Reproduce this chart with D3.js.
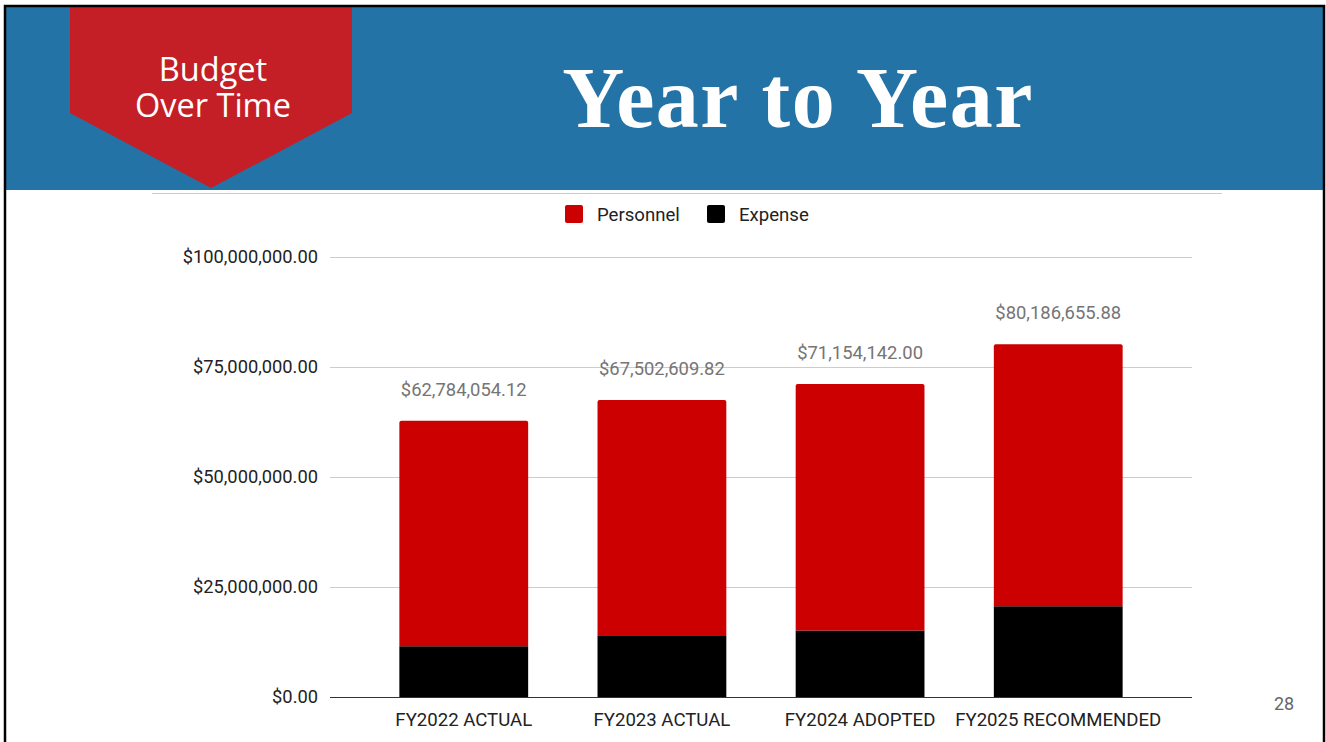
<!DOCTYPE html>
<html>
<head>
<meta charset="utf-8">
<script src="https://cdn.jsdelivr.net/npm/d3@7"></script>
<style>
  html, body { margin: 0; padding: 0; background: #fff; }
  svg { display: block; }
</style>
</head>
<body>
<svg id="slide" width="1326" height="742"></svg>
<script>
// Fiscal years shown on the x axis
const categories = ["FY2022 ACTUAL", "FY2023 ACTUAL", "FY2024 ADOPTED", "FY2025 RECOMMENDED"];
// Stacked series (bottom segment first)
const expense   = [11550000.00, 14050000.00, 15100000.00, 20600000.00];
const personnel = [51234054.12, 53452609.82, 56054142.00, 59586655.88];
const seriesNames = ["Personnel", "Expense"];
const seriesColors = ["#cc0000", "#000000"];
// Y axis ticks
const yTicks = [0, 25000000, 50000000, 75000000, 100000000];

const svg = d3.select("#slide");

// ---- Header band ----
svg.append("rect").attr("x", 6).attr("y", 7).attr("width", 1317).attr("height", 183).attr("fill", "#2473a6");

// Red chevron banner
svg.append("path")
  .attr("d", "M70,7 L352,7 L352,113 L211,188 L70,113 Z")
  .attr("fill", "#c41f26");
const banner = svg.append("text").attr("text-anchor", "middle")
  .attr("font-family", "'Open Sans', sans-serif").attr("font-size", 32.5).attr("fill", "#fff");
banner.append("tspan").attr("x", 213).attr("y", 81).text("Budget");
banner.append("tspan").attr("x", 213).attr("y", 117).text("Over Time");

// Title
svg.append("text").attr("x", 798).attr("y", 127).attr("text-anchor", "middle")
  .attr("font-family", "'Liberation Serif', serif").attr("font-weight", "bold")
  .attr("font-size", 86).attr("letter-spacing", 1.5).attr("fill", "#fff").text("Year to Year");

// Frame
svg.append("rect").attr("x", 5).attr("y", 6).attr("width", 1319).attr("height", 760)
  .attr("fill", "none").attr("stroke", "#000").attr("stroke-width", 2.5);

// Thin rule under the header
svg.append("line").attr("x1", 152).attr("x2", 1222).attr("y1", 193.5).attr("y2", 193.5)
  .attr("stroke", "#cccccc").attr("stroke-width", 1);

// ---- Chart ----
const plotLeft = 330, plotRight = 1192, plotTop = 257, plotBottom = 697;
const x = d3.scaleBand().domain(categories).range([plotLeft, plotRight]).paddingInner(0.35).paddingOuter(0.35);
const y = d3.scaleLinear().domain([0, 100000000]).range([plotBottom, plotTop]);

const fmtMoney = v => "$" + d3.format(",.2f")(v);
const font = "Roboto, sans-serif";

// Gridlines
svg.append("g").selectAll("line").data(yTicks.filter(t => t > 0)).join("line")
  .attr("x1", plotLeft).attr("x2", plotRight)
  .attr("y1", d => Math.round(y(d)) + 0.5).attr("y2", d => Math.round(y(d)) + 0.5)
  .attr("stroke", "#cccccc").attr("stroke-width", 1);

// Y axis labels
const yAxis = d3.axisLeft(y).tickValues(yTicks).tickSize(0).tickPadding(12).tickFormat(fmtMoney);
const gy = svg.append("g").attr("transform", `translate(${plotLeft},0)`).call(yAxis);
gy.select(".domain").remove();
gy.selectAll("text").attr("font-family", font).attr("font-size", 18.3).attr("fill", "#222");

// Stacked bars
const rows = categories.map((c, i) => ({ cat: c, Expense: expense[i], Personnel: personnel[i] }));
const stack = d3.stack().keys(["Expense", "Personnel"])(rows);
const color = d3.scaleOrdinal().domain(seriesNames).range(seriesColors);

stack.forEach(layer => {
  const isTop = layer.key === "Personnel";
  svg.append("g").selectAll("path").data(layer).join("path")
    .attr("fill", color(layer.key))
    .attr("d", d => {
      const x0 = x(d.data.cat), w = x.bandwidth();
      const y0 = y(d[0]), y1 = y(d[1]);
      const r = isTop ? 2 : 0;
      return `M${x0},${y0} L${x0},${y1 + r} Q${x0},${y1} ${x0 + r},${y1} L${x0 + w - r},${y1} Q${x0 + w},${y1} ${x0 + w},${y1 + r} L${x0 + w},${y0} Z`;
    });
});

// Baseline
svg.append("line").attr("x1", plotLeft).attr("x2", plotRight).attr("y1", plotBottom + 0.5).attr("y2", plotBottom + 0.5)
  .attr("stroke", "#333").attr("stroke-width", 1.2);

// Total labels above bars
svg.append("g").selectAll("text").data(rows).join("text")
  .attr("x", d => x(d.cat) + x.bandwidth() / 2)
  .attr("y", d => y(d.Expense + d.Personnel) - 25)
  .attr("text-anchor", "middle")
  .attr("font-family", font).attr("font-size", 18.4).attr("fill", "#757575")
  .text(d => fmtMoney(d.Expense + d.Personnel));

// X axis labels
const xAxis = d3.axisBottom(x).tickSize(0).tickPadding(16);
const gx = svg.append("g").attr("transform", `translate(0,${plotBottom})`).call(xAxis);
gx.select(".domain").remove();
gx.selectAll("text").attr("font-family", font).attr("font-size", 18.6).attr("fill", "#222");

// Legend
const legend = svg.append("g");
const legendItems = [{ name: seriesNames[0], x: 565 }, { name: seriesNames[1], x: 707 }];
legendItems.forEach(it => {
  legend.append("rect").attr("x", it.x).attr("y", 205).attr("width", 18).attr("height", 18).attr("rx", 2)
    .attr("fill", color(it.name));
  legend.append("text").attr("x", it.x + 32).attr("y", 221)
    .attr("font-family", font).attr("font-size", 18.6).attr("fill", "#222").text(it.name);
});

// Page number
svg.append("text").attr("x", 1284).attr("y", 710).attr("text-anchor", "middle")
  .attr("font-family", font).attr("font-size", 18).attr("fill", "#666").text("28");
</script>
</body>
</html>
